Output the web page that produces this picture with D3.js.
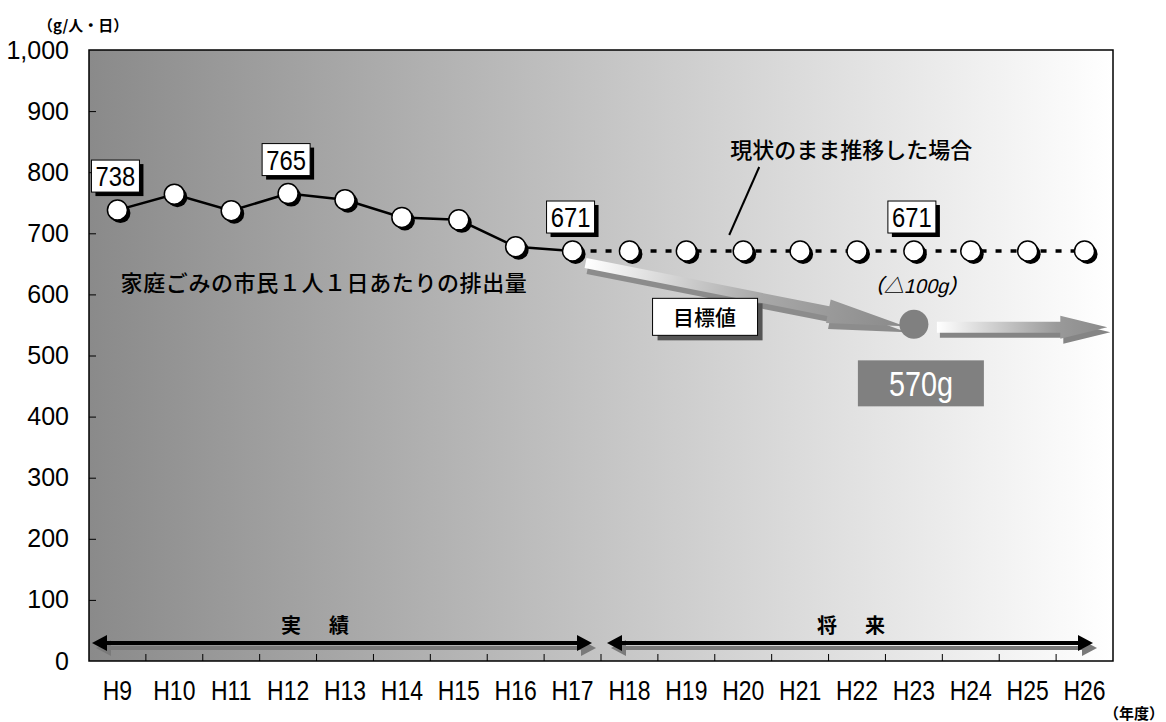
<!DOCTYPE html>
<meta charset="UTF-8">
<style>
  body { margin: 0; background: #fff; }
  svg { display: block; }
</style>
<svg width="1166" height="722"></svg>
<script src="https://cdn.jsdelivr.net/npm/d3@7"></script>
<script>

// data
var years = ["H9", "H10", "H11", "H12", "H13", "H14", "H15", "H16", "H17",
             "H18", "H19", "H20", "H21", "H22", "H23", "H24", "H25", "H26"];
var actualYears = ["H9", "H10", "H11", "H12", "H13", "H14", "H15", "H16", "H17"];
var actualValues = [738, 764, 737, 765, 755, 726, 722, 678, 671];
var trendYears = ["H17", "H18", "H19", "H20", "H21", "H22", "H23", "H24", "H25", "H26"];
var trendValues = [671, 671, 671, 671, 671, 671, 671, 671, 671, 671];
var calloutYears = ["H9", "H12", "H17", "H23"];
var calloutValues = [738, 765, 671, 671];
var yTicks = [0, 100, 200, 300, 400, 500, 600, 700, 800, 900, 1000];
var periodNames = ["実　績", "将　来"];
var periodFrom = ["H9", "H18"];
var periodTo = ["H17", "H26"];
var targetYear = "H23";
var targetPlotted = 551;          // where the dot sits in the picture
var targetText = "570g";
var cutText = "（△100g）";
var targetName = "目標値";
var seriesName = "家庭ごみの市民１人１日あたりの排出量";
var trendName = "現状のまま推移した場合";
var yUnit = "（g/人・日）";
var xUnit = "（年度）";

(function() {

var jp = "'Noto Sans CJK JP', sans-serif",
    sans = "'Liberation Sans', Arial, sans-serif",
    squeeze = "scale(0.82,1)";   // narrow look of the numerals

var svg = d3.select("svg"),
    mLeft = 89, mRight = 1113, mTop = 50, mBottom = 661;

var x = d3.scaleBand().domain(years).range([mLeft, mRight]),
    y = d3.scaleLinear().domain([0, 1000]).range([mBottom, mTop]),
    bw = x.bandwidth(),
    cx = function(d) { return x(d) + bw / 2; };

var defs = svg.append("defs");
function grad(id, stops) {
  var g = defs.append("linearGradient").attr("id", id)
      .attr("x1", 0).attr("y1", 0).attr("x2", 1).attr("y2", 0);
  stops.forEach(function(s) {
    g.append("stop").attr("offset", s[0]).attr("stop-color", s[1]);
  });
}
grad("bg", [[0, "#8a8a8a"], [1, "#ffffff"]]);
grad("goal", [[0, "#ffffff"], [0.55, "#a8a8a8"], [1, "#8a8a8a"]]);
grad("keep", [[0, "#ffffff"], [0.7, "#9a9a9a"], [1, "#8a8a8a"]]);

// plot background
svg.append("rect")
    .attr("x", mLeft).attr("y", mTop)
    .attr("width", mRight - mLeft).attr("height", mBottom - mTop)
    .attr("fill", "url(#bg)");

// y axis, ticks pointing inward
var yAxis = svg.append("g")
    .attr("transform", "translate(" + mLeft + ",0)")
    .call(d3.axisLeft(y).tickValues(yTicks).tickSize(-7).tickPadding(20)
      .tickFormat(d3.format(",")));
yAxis.select(".domain").remove();
yAxis.selectAll("line").attr("stroke", "#000");
yAxis.selectAll("text")
    .attr("font-family", sans).attr("font-size", 25).attr("fill", "#000");
yAxis.selectAll(".tick").filter(function(d) { return d === 0 || d === 1000; })
    .select("line").remove();

// x axis labels, ticks at the band boundaries
var xAxis = svg.append("g")
    .attr("transform", "translate(0," + mBottom + ")")
    .call(d3.axisBottom(x).tickSize(0).tickPadding(19));
xAxis.select(".domain").remove();
xAxis.selectAll("text")
    .attr("font-family", sans).attr("font-size", 28).attr("fill", "#000")
    .attr("transform", squeeze);
svg.append("g").selectAll("line")
  .data(years.slice(1))
  .join("line")
    .attr("x1", function(d) { return x(d); }).attr("x2", function(d) { return x(d); })
    .attr("y1", mBottom).attr("y2", mBottom - 7)
    .attr("stroke", "#000");

// arrow outline along +x, from 0 to len
function arrowShape(len, sw, hl, hw) {
  return "M0," + (-sw) + "L" + (len - hl) + "," + (-sw) + "L" + (len - hl) + "," + (-hw) +
    "L" + len + ",0L" + (len - hl) + "," + hw + "L" + (len - hl) + "," + sw + "L0," + sw + "Z";
}
function doubleShape(len, sw, hl, hw) {
  return "M0,0L" + hl + "," + (-hw) + "L" + hl + "," + (-sw) + "L" + (len - hl) + "," + (-sw) +
    "L" + (len - hl) + "," + (-hw) + "L" + len + ",0L" + (len - hl) + "," + hw +
    "L" + (len - hl) + "," + sw + "L" + hl + "," + sw + "L" + hl + "," + hw + "Z";
}
function arrow(x1, y1, x2, y2, shape, fill, shadow, sdx, sdy) {
  var a = Math.atan2(y2 - y1, x2 - x1) * 180 / Math.PI;
  svg.append("path")
      .attr("transform", "translate(" + (x1 + sdx) + "," + (y1 + sdy) + ") rotate(" + a + ")")
      .attr("d", shape).attr("fill", shadow);
  svg.append("path")
      .attr("transform", "translate(" + x1 + "," + y1 + ") rotate(" + a + ")")
      .attr("d", shape).attr("fill", fill);
}

// period arrows
var insetL = [3, 6], insetR = [9, 20], labelShift = [-25, 3];
periodNames.forEach(function(name, i) {
  var x1 = x(periodFrom[i]) + insetL[i],
      x2 = x(periodTo[i]) + bw - insetR[i],
      yy = 643;
  arrow(x1, yy, x2, yy, doubleShape(x2 - x1, 2, 15, 8), "#000", "#7a7a7a", 4, 5);
  svg.append("text")
      .attr("x", (x1 + x2) / 2 + labelShift[i]).attr("y", 633)
      .attr("text-anchor", "middle")
      .attr("font-family", jp).attr("font-size", 20).attr("font-weight", 700)
      .attr("letter-spacing", 4)
      .text(name);
});

// leader for the "no change" case
var lx = cx("H20"), ly = y(671);
svg.append("line")
    .attr("x1", lx + 16).attr("y1", ly - 84)
    .attr("x2", lx - 14).attr("y2", ly - 16)
    .attr("stroke", "#000").attr("stroke-width", 2);
svg.append("text")
    .attr("x", lx + 108).attr("y", ly - 93)
    .attr("text-anchor", "middle")
    .attr("font-family", jp).attr("font-size", 22).attr("font-weight", 500)
    .text(trendName);

// lines
var line = d3.line().x(function(d) { return cx(d[0]); }).y(function(d) { return y(d[1]); });
svg.append("path")
    .attr("d", line(d3.zip(actualYears, actualValues)))
    .attr("fill", "none").attr("stroke", "#000").attr("stroke-width", 2.5);
svg.append("path")
    .attr("d", line(d3.zip(trendYears, trendValues)))
    .attr("fill", "none").attr("stroke", "#000").attr("stroke-width", 3.5)
    .attr("stroke-dasharray", "6,9").attr("stroke-dashoffset", 12);

// target arrows
var tx = cx(targetYear), ty = y(targetPlotted), sx = cx("H17"), sy = y(671);
var gx1 = sx + 13, gy1 = sy + 12, gx2 = tx - 9, gy2 = ty + 2,
    glen = Math.hypot(gx2 - gx1, gy2 - gy1);
arrow(gx1, gy1, gx2, gy2, arrowShape(glen, 5, 78, 12), "url(#goal)", "#8c8c8c", 2, 6);
var hx1 = tx + 23, hx2 = cx("H26") + bw * 0.4, hy = ty + 3;
arrow(hx1, hy, hx2, hy, arrowShape(hx2 - hx1, 5.5, 47, 11.5), "url(#keep)", "#858585", 3, 5);

svg.append("circle")
    .attr("cx", tx).attr("cy", ty).attr("r", 14.5).attr("fill", "#808080");

// markers with drop shadow
var pts = d3.zip(actualYears, actualValues).concat(d3.zip(trendYears.slice(1), trendValues.slice(1)));
svg.append("g").selectAll("circle")
  .data(pts)
  .join("circle")
    .attr("cx", function(d) { return cx(d[0]) + 3; })
    .attr("cy", function(d) { return y(d[1]) + 3; })
    .attr("r", 10).attr("fill", "#000");
svg.append("g").selectAll("circle")
  .data(pts)
  .join("circle")
    .attr("cx", function(d) { return cx(d[0]); })
    .attr("cy", function(d) { return y(d[1]); })
    .attr("r", 10).attr("fill", "#fff").attr("stroke", "#000").attr("stroke-width", 1.5);

// value callouts
var callouts = svg.append("g").selectAll("g")
  .data(d3.zip(calloutYears, calloutValues))
  .join("g")
    .attr("transform", function(d) {
      return "translate(" + (cx(d[0]) - 2) + "," + (y(d[1]) - 18) + ")";
    });
callouts.append("rect")
    .attr("x", -24 + 4).attr("y", -32 + 4).attr("width", 48).attr("height", 32)
    .attr("fill", "#000");
callouts.append("rect")
    .attr("x", -24).attr("y", -32).attr("width", 48).attr("height", 32)
    .attr("fill", "#fff").attr("stroke", "#000");
callouts.append("text")
    .attr("y", -6).attr("text-anchor", "middle")
    .attr("transform", "scale(0.85,1)")
    .attr("font-family", sans).attr("font-size", 28)
    .text(function(d) { return d[1]; });

// series name
svg.append("text")
    .attr("x", 324).attr("y", 291)
    .attr("text-anchor", "middle")
    .attr("font-family", jp).attr("font-size", 22).attr("font-weight", 500)
    .attr("letter-spacing", 0.6)
    .text(seriesName);

// target label box
var nb = svg.append("g").attr("transform", "translate(" + (sx + 132) + "," + (ty - 7) + ")");
nb.append("rect").attr("x", -52 + 5).attr("y", -19 + 5).attr("width", 105).attr("height", 37)
    .attr("fill", "#555");
nb.append("rect").attr("x", -52).attr("y", -19).attr("width", 105).attr("height", 37)
    .attr("fill", "#fff").attr("stroke", "#000");
nb.append("text").attr("y", 8).attr("text-anchor", "middle")
    .attr("font-family", jp).attr("font-size", 21).attr("font-weight", 500)
    .text(targetName);

// reduction note, slanted by hand (the CJK face has no italic)
svg.append("g")
    .attr("transform", "translate(" + (tx + 2) + "," + (ty - 31) + ") skewX(-14)")
  .append("text")
    .attr("text-anchor", "middle")
    .attr("font-family", "'Liberation Sans', 'Noto Sans CJK JP', sans-serif")
    .attr("font-size", 20).attr("font-weight", 500)
    .text(cutText);

var vb = svg.append("g").attr("transform", "translate(" + (tx + 7) + "," + (ty + 59) + ")");
vb.append("rect")
    .attr("x", -63).attr("y", -23).attr("width", 126).attr("height", 46)
    .attr("fill", "#808080");
vb.append("text")
    .attr("y", 13).attr("text-anchor", "middle")
    .attr("transform", "scale(0.8,1)")
    .attr("font-family", sans).attr("font-size", 36).attr("fill", "#fff")
    .text(targetText);

// units
svg.append("text").attr("x", 38).attr("y", 31)
    .attr("font-family", jp).attr("font-size", 15).attr("font-weight", 700)
    .text(yUnit);
svg.append("text").attr("x", 1104).attr("y", 719)
    .attr("font-family", jp).attr("font-size", 15).attr("font-weight", 700)
    .text(xUnit);

// frame
svg.append("rect")
    .attr("x", mLeft).attr("y", mTop)
    .attr("width", mRight - mLeft).attr("height", mBottom - mTop)
    .attr("fill", "none").attr("stroke", "#000").attr("stroke-width", 1.5);

})();
</script>
